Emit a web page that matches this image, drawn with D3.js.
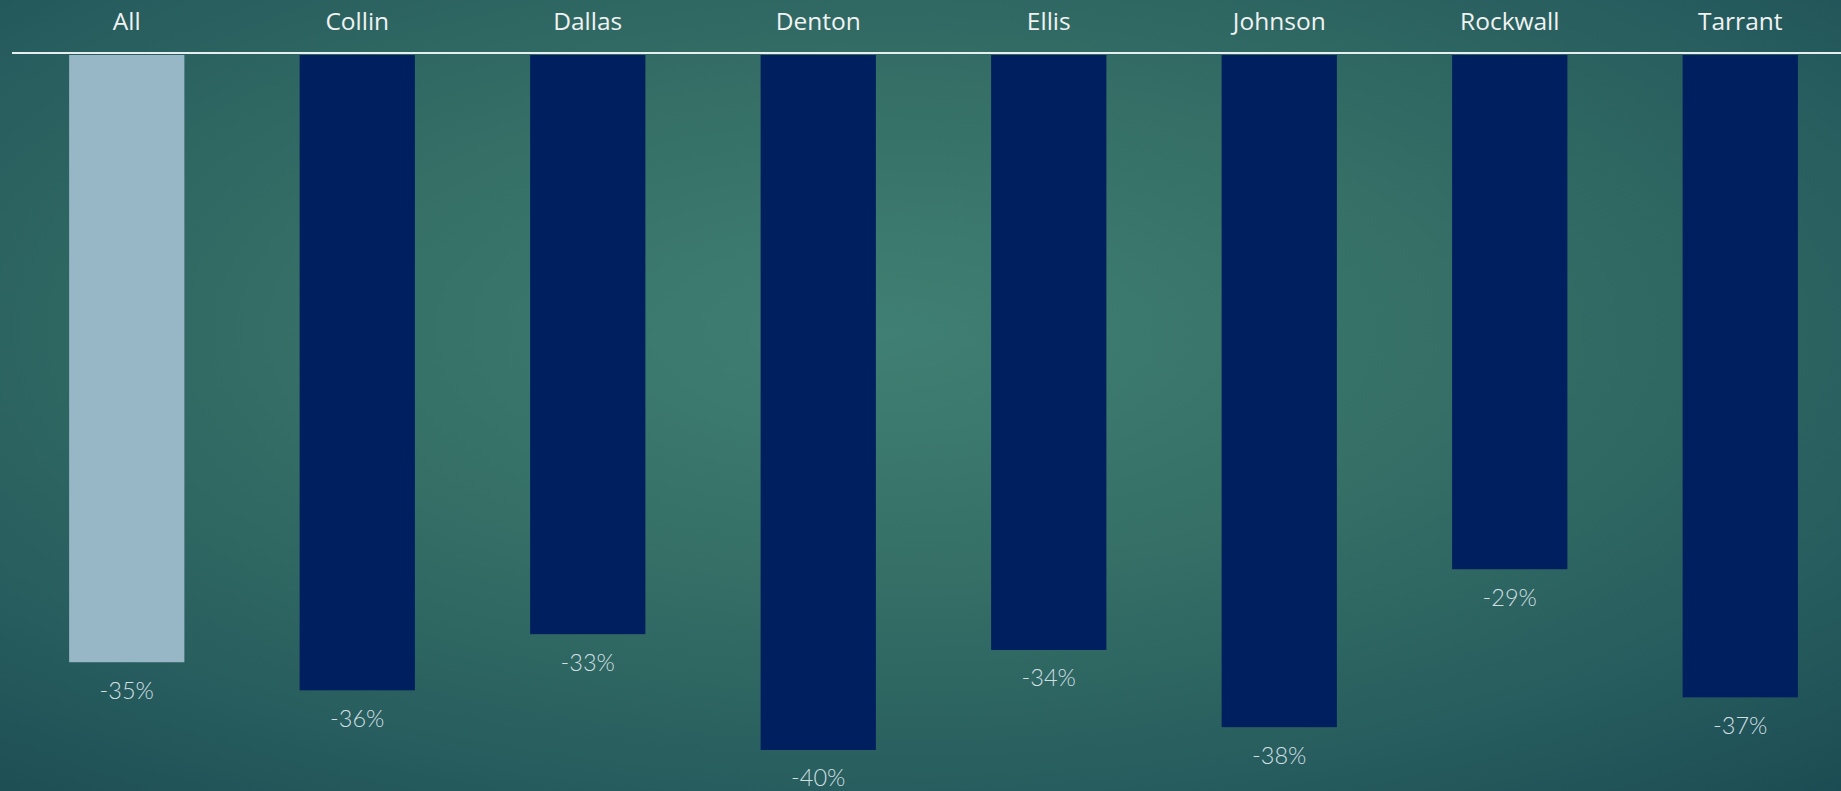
<!DOCTYPE html>
<html>
<head>
<meta charset="utf-8">
<script src="https://cdn.jsdelivr.net/npm/d3@7"></script>
<style>
  html, body { margin: 0; padding: 0; overflow: hidden; background: #1f5257; }
  svg { display: block; }
</style>
</head>
<body>
<svg id="chart" width="1841" height="791"></svg>
<script>
const categories = ["All", "Collin", "Dallas", "Denton", "Ellis", "Johnson", "Rockwall", "Tarrant"];
const values = [-34.6, -36.2, -33.0, -39.6, -33.9, -38.3, -29.3, -36.6];
const barColors = ["#97b7c6", "#001f5f", "#001f5f", "#001f5f", "#001f5f", "#001f5f", "#001f5f", "#001f5f"];

const W = 1841, H = 791;
const svg = d3.select("#chart");

const defs = svg.append("defs");
const grad = defs.append("radialGradient")
  .attr("id", "bg")
  .attr("cx", "48%").attr("cy", "42%").attr("r", "78%");
grad.append("stop").attr("offset", "0%").attr("stop-color", "#407f73");
grad.append("stop").attr("offset", "40%").attr("stop-color", "#356f66");
grad.append("stop").attr("offset", "75%").attr("stop-color", "#275d5e");
grad.append("stop").attr("offset", "100%").attr("stop-color", "#1c4c53");
svg.append("rect").attr("width", W).attr("height", H).attr("fill", "url(#bg)");

const x = d3.scaleBand()
  .domain(categories)
  .range([11.5, 1855.5])
  .paddingInner(0.5)
  .paddingOuter(0.25);

const y = d3.scaleLinear()
  .domain([0, -40])
  .range([55, 55 + 40 * 17.55]);

const data = categories.map((c, i) => ({ c, v: values[i], color: barColors[i] }));

svg.append("g").selectAll("rect")
  .data(data)
  .join("rect")
  .attr("x", d => x(d.c))
  .attr("y", y(0))
  .attr("width", x.bandwidth())
  .attr("height", d => y(d.v) - y(0))
  .attr("fill", d => d.color);

// axis line along the top
const axis = d3.axisTop(x).tickSize(0).tickPadding(23.5);
const gAxis = svg.append("g")
  .attr("transform", `translate(0,${y(0) - 2})`)
  .call(axis);
gAxis.select(".domain").remove();
svg.append("line")
  .attr("x1", 12).attr("x2", W)
  .attr("y1", y(0) - 2).attr("y2", y(0) - 2)
  .attr("stroke", "#e6eef0").attr("stroke-width", 2);
gAxis.selectAll("text")
  .attr("font-family", "'Open Sans', sans-serif")
  .attr("font-size", 24.5)
  .attr("font-weight", 500)
  .attr("fill", "#f0f2f2");

const fmt = v => Math.round(v) + "%";
svg.append("g").selectAll("text")
  .data(data)
  .join("text")
  .attr("x", d => x(d.c) + x.bandwidth() / 2)
  .attr("y", d => y(d.v) + 36.5)
  .attr("text-anchor", "middle")
  .attr("font-family", "Lato, sans-serif")
  .attr("font-weight", 300)
  .attr("font-size", 23.5)
  .attr("fill", "#d0dfe2")
  .text(d => fmt(d.v));
</script>
</body>
</html>
